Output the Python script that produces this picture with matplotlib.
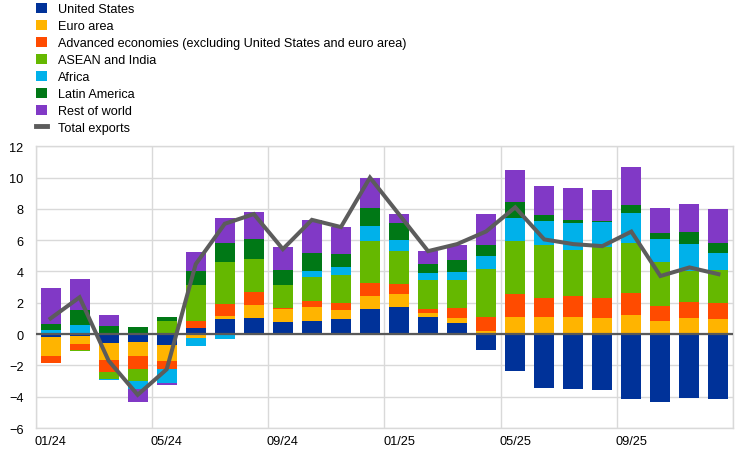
import numpy as np
import matplotlib
matplotlib.use("Agg")
import matplotlib.pyplot as plt
from matplotlib.patches import Patch
from matplotlib.lines import Line2D

plt.rcParams['font.family'] = ['Liberation Sans', 'DejaVu Sans']

# monthly contributions, Jan 2024 - Dec 2025
months = ["01/24", "02/24", "03/24", "04/24", "05/24", "06/24", "07/24", "08/24",
          "09/24", "10/24", "11/24", "12/24", "01/25", "02/25", "03/25", "04/25",
          "05/25", "06/25", "07/25", "08/25", "09/25", "10/25", "11/25", "12/25"]

us = [-0.17, -0.10, -0.58, -0.51, -0.70, 0.38, 0.96, 1.02, 0.77, 0.83, 0.96, 1.60,
      1.73, 1.09, 0.70, -1.02, -2.36, -3.45, -3.51, -3.58, -4.15, -4.34, -4.09, -4.15]
euro = [-1.24, -0.53, -1.09, -0.89, -1.02, -0.25, 0.19, 0.83, 0.83, 0.89, 0.58, 0.83,
        0.83, 0.26, 0.32, 0.19, 1.09, 1.09, 1.09, 1.02, 1.21, 0.83, 1.02, 0.96]
adv = [-0.45, -0.36, -0.77, -0.83, -0.51, 0.45, 0.79, 0.85, 0.09, 0.38, 0.45, 0.83,
       0.66, 0.26, 0.64, 0.89, 1.49, 1.21, 1.36, 1.30, 1.41, 0.98, 1.02, 1.02]
asean = [0.0, -0.08, -0.45, -0.79, 0.83, 2.30, 2.66, 2.09, 1.45, 1.53, 1.79, 2.68,
         2.09, 1.85, 1.79, 3.07, 3.37, 3.39, 2.94, 3.24, 3.19, 2.81, 1.98, 2.11]
africa = [0.25, 0.57, -0.06, -0.49, -0.89, -0.51, -0.32, -0.08, 0.0, 0.38, 0.51, 0.96,
          0.70, 0.45, 0.51, 0.83, 1.47, 1.53, 1.70, 1.62, 1.92, 1.45, 1.73, 1.09]
latam = [0.38, 0.96, 0.51, 0.45, 0.26, 0.89, 1.21, 1.28, 0.96, 1.15, 0.83, 1.15,
         1.09, 0.58, 0.77, 0.70, 1.02, 0.38, 0.19, 0.04, 0.51, 0.38, 0.77, 0.64]
rest = [2.30, 1.98, 0.70, -0.83, -0.13, 1.21, 1.60, 1.72, 1.47, 2.11, 1.73, 1.92,
        0.58, 0.83, 0.96, 1.98, 2.04, 1.85, 2.04, 1.98, 2.43, 1.60, 1.79, 2.17]
total = [1.0, 2.35, -1.7, -3.88, -2.25, 4.47, 7.05, 7.67, 5.43, 7.3, 6.84, 10.0,
         7.65, 5.3, 5.75, 6.56, 8.1, 6.05, 5.75, 5.62, 6.55, 3.71, 4.26, 3.83]

series = [
    ("United States", us, "#003299"),
    ("Euro area", euro, "#FFB400"),
    ("Advanced economies (excluding United States and euro area)", adv, "#FF4B00"),
    ("ASEAN and India", asean, "#65B800"),
    ("Africa", africa, "#00B1EA"),
    ("Latin America", latam, "#007816"),
    ("Rest of world", rest, "#8139C6"),
]

fig = plt.figure(figsize=(7.44, 4.56), dpi=100)
ax = fig.add_axes([0.0484, 0.0592, 0.9368, 0.6178])

x = np.arange(len(months))
pos_base = np.zeros(len(x))
neg_base = np.zeros(len(x))
handles = []
for name, vals, col in series:
    v = np.array(vals)
    p = np.where(v > 0, v, 0)
    n = np.where(v < 0, v, 0)
    ax.bar(x, p, 0.69, bottom=pos_base, color=col, zorder=2)
    ax.bar(x, n, 0.69, bottom=neg_base, color=col, zorder=2)
    pos_base += p
    neg_base += n
    handles.append(Patch(facecolor=col, label=name))

ax.axhline(0, color="#595959", lw=1.6, zorder=3)
ax.plot(x, total, color="#5C5C5C", lw=2.9, zorder=4, solid_joinstyle="miter")
handles.append(Line2D([], [], color="#5C5C5C", lw=3.5, label="Total exports"))

ax.set_xlim(-0.5, len(x) - 0.5)
ax.set_ylim(-6, 12)
ax.set_yticks(np.arange(-6, 13, 2))
ax.set_xticks(x[::4])
ax.set_xticklabels(months[::4])
ax.set_xticks(np.arange(-0.5, len(x), 4), minor=True)
ax.grid(axis="y", color="#D9D9D9", lw=1, zorder=0)
ax.grid(axis="x", which="minor", color="#D9D9D9", lw=1, zorder=0)
ax.tick_params(which="both", length=0, labelsize=9.2)
ax.tick_params(axis="y", pad=9)
ax.tick_params(axis="x", pad=5)
for s in ax.spines.values():
    s.set_color("#D9D9D9")
    s.set_linewidth(1)

fig.legend(handles=handles, loc="upper left", bbox_to_anchor=(0.0484, 0.9916),
           frameon=False, fontsize=9.05, handlelength=0.87, handleheight=0.87,
           handletextpad=0.87, labelspacing=0.36, borderpad=0.0, borderaxespad=0)

fig.savefig("out.png", dpi=100)
